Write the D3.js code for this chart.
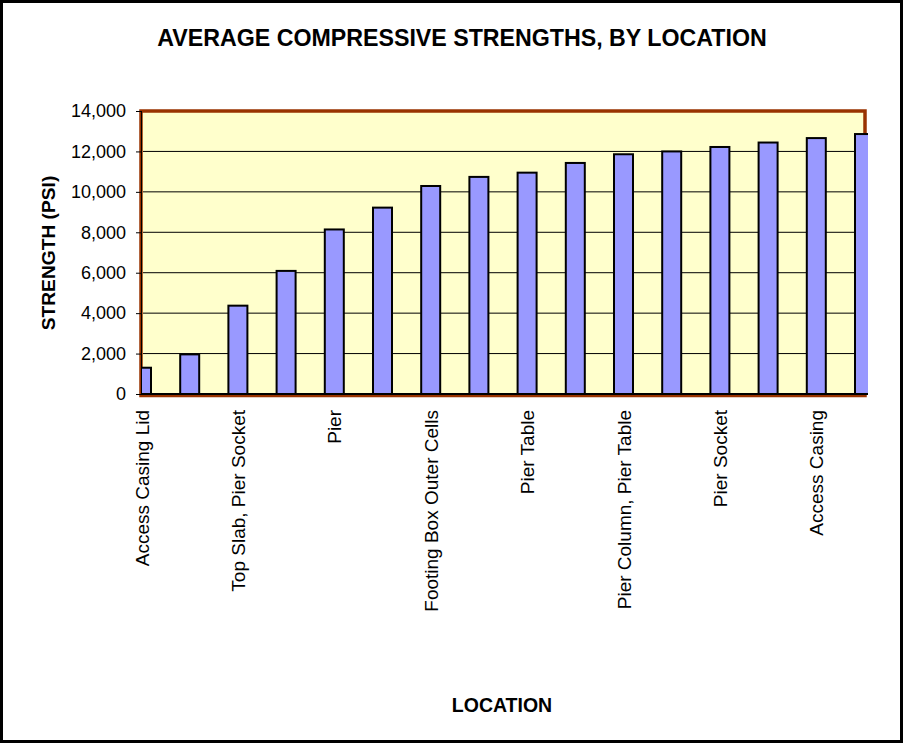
<!DOCTYPE html>
<html>
<head>
<meta charset="utf-8">
<script src="https://cdn.jsdelivr.net/npm/d3@7"></script>
<style>
  html, body { margin: 0; padding: 0; background: #fff; }
  svg { display: block; font-family: Arial, "Liberation Sans", sans-serif; }
</style>
</head>
<body>
<svg id="chart" width="903" height="744"></svg>
<script>
const titleText = "AVERAGE COMPRESSIVE STRENGTHS, BY LOCATION";
const xTitle = "LOCATION";
const yTitle = "STRENGTH (PSI)";
// 16 locations; only every other label is printed on the axis
const categories = ["Access Casing Lid", "", "Top Slab, Pier Socket", "", "Pier", "",
  "Footing Box Outer Cells", "", "Pier Table", "", "Pier Column, Pier Table", "",
  "Pier Socket", "", "Access Casing", ""];
const strengths = [1300, 1960, 4370, 6090, 8140, 9220, 10290, 10740, 10950, 11430,
  11860, 12000, 12220, 12440, 12660, 12860];
const yTicks = [0, 2000, 4000, 6000, 8000, 10000, 12000, 14000];

const svg = d3.select("#chart");
const W = 903, H = 744;
const plot = { left: 141, right: 865, top: 111, bottom: 394, clipRight: 868 };

// outer frame
svg.append("rect").attr("x", 1.5).attr("y", 1.5).attr("width", W - 3).attr("height", H - 4)
  .attr("fill", "#fff").attr("stroke", "#000").attr("stroke-width", 3);

const x = d3.scalePoint().domain(d3.range(categories.length))
  .range([141.5, 864.5]);
const y = d3.scaleLinear().domain([0, 14000]).range([plot.bottom, plot.top]);
const barW = 19;

// plot area
svg.append("rect").attr("x", plot.left).attr("y", plot.top)
  .attr("width", plot.right - plot.left).attr("height", plot.bottom - plot.top + 1.5)
  .attr("fill", "#FFFFCC").attr("stroke", "#993300").attr("stroke-width", 3.5);

// gridlines
svg.append("g").selectAll("line").data(yTicks.filter(d => d > 0 && d < 14000)).join("line")
  .attr("x1", plot.left + 2).attr("x2", plot.right - 2)
  .attr("y1", d => y(d)).attr("y2", d => y(d))
  .attr("stroke", "#000").attr("stroke-width", 1);

// bars (clipped like the original)
svg.append("clipPath").attr("id", "clip").append("rect")
  .attr("x", plot.left + 0.5).attr("y", 0).attr("width", plot.clipRight - plot.left - 0.5).attr("height", plot.bottom + 1);
svg.append("g").attr("clip-path", "url(#clip)")
  .selectAll("rect").data(strengths).join("rect")
  .attr("x", (d, i) => x(i) - barW / 2)
  .attr("y", d => y(d))
  .attr("width", barW)
  .attr("height", d => plot.bottom - y(d))
  .attr("fill", "#9999FF").attr("stroke", "#000").attr("stroke-width", 2);

// left axis line
svg.append("line").attr("x1", plot.left + 0.5).attr("x2", plot.left + 0.5)
  .attr("y1", plot.top).attr("y2", plot.bottom).attr("stroke", "#000").attr("stroke-width", 1);

// y axis
const yAxis = svg.append("g").attr("transform", `translate(${plot.left},0)`)
  .call(d3.axisLeft(y).tickValues(yTicks).tickSize(5).tickPadding(10).tickFormat(d3.format(",")));
yAxis.select(".domain").remove();
yAxis.selectAll(".tick line").attr("stroke", "#000");
yAxis.selectAll(".tick text").attr("font-size", "18px").attr("fill", "#000")
  .attr("font-family", "Arial, 'Liberation Sans', sans-serif");

// x axis
const xAxis = svg.append("g").attr("transform", `translate(0,${plot.bottom})`)
  .call(d3.axisBottom(x).tickSize(0).tickFormat(i => categories[i]));
xAxis.select(".domain").remove();
svg.append("line").attr("x1", plot.left).attr("x2", plot.clipRight)
  .attr("y1", plot.bottom).attr("y2", plot.bottom).attr("stroke", "#000").attr("stroke-width", 2);
xAxis.selectAll(".tick text")
  .attr("font-size", "19px").attr("fill", "#000")
  .attr("font-family", "Arial, 'Liberation Sans', sans-serif")
  .attr("transform", "rotate(-90)")
  .attr("text-anchor", "end")
  .attr("x", -16).attr("y", 0).attr("dy", "0.35em");

// titles
svg.append("text").attr("x", 462).attr("y", 46).attr("text-anchor", "middle")
  .attr("font-size", "23.2px").attr("font-weight", "bold").text(titleText);
svg.append("text").attr("x", 502).attr("y", 712).attr("text-anchor", "middle")
  .attr("font-size", "19.5px").attr("font-weight", "bold").text(xTitle);
svg.append("text").attr("transform", "translate(55,253) rotate(-90)").attr("text-anchor", "middle")
  .attr("font-size", "19.2px").attr("font-weight", "bold").text(yTitle);
</script>
</body>
</html>
